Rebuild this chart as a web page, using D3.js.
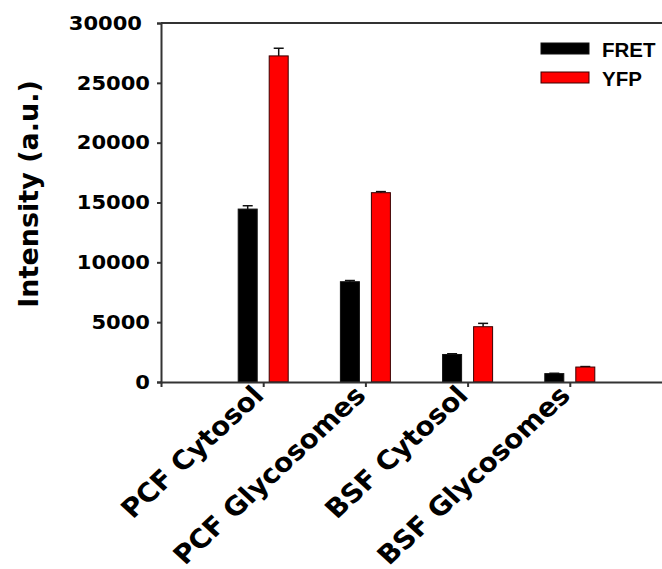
<!DOCTYPE html>
<html>
<head>
<meta charset="utf-8">
<script src="https://cdn.jsdelivr.net/npm/d3@7/dist/d3.min.js"></script>
<style>
  html, body { margin: 0; padding: 0; background: #fff; }
  svg { display: block; }
</style>
</head>
<body>
<svg id="chart" width="662" height="569"></svg>
<script>
// Fluorescence intensity per compartment, FRET vs YFP channel
const categories = ["PCF Cytosol", "PCF Glycosomes", "BSF Cytosol", "BSF Glycosomes"];
const seriesNames = ["FRET", "YFP"];
const fretValues = [14450, 8380, 2300, 700];
const fretErrors = [280, 100, 60, 30];
const yfpValues = [27250, 15820, 4620, 1250];
const yfpErrors = [640, 90, 280, 40];
const yTicks = [0, 5000, 10000, 15000, 20000, 25000, 30000];
const colors = ["#000000", "#ff0000"];

const svg = d3.select("#chart");
const plotLeft = 161, plotRight = 672, plotTop = 23, plotBottom = 382;
const stretch = 1.08; // slightly wide lettering

// five slots along the axis, categories sit on slots 1..4
const x = d3.scaleLinear().domain([0, 5]).range([plotLeft, plotRight]);
const y = d3.scaleLinear().domain([0, 30000]).range([plotBottom, plotTop]);

const barW = 19, offset = 15.5;
const series = [
  { name: seriesNames[0], values: fretValues, errors: fretErrors, color: colors[0], stroke: "#111", dx: -offset },
  { name: seriesNames[1], values: yfpValues, errors: yfpErrors, color: colors[1], stroke: "#3a0000", dx: offset }
];

// bars with upper error whiskers
series.forEach(s => {
  const g = svg.append("g");
  s.values.forEach((v, i) => {
    const cx = x(i + 1) + s.dx;
    const yTop = y(v + s.errors[i]);
    g.append("line")
      .attr("x1", cx).attr("x2", cx)
      .attr("y1", y(v)).attr("y2", yTop)
      .attr("stroke", "#111").attr("stroke-width", 1.5);
    g.append("line")
      .attr("x1", cx - 5).attr("x2", cx + 5)
      .attr("y1", yTop).attr("y2", yTop)
      .attr("stroke", "#111").attr("stroke-width", 1.5);
    g.append("rect")
      .attr("x", cx - barW / 2).attr("width", barW)
      .attr("y", y(v)).attr("height", y(0) - y(v))
      .attr("fill", s.color).attr("stroke", s.stroke).attr("stroke-width", 1);
  });
});

// frame top line
svg.append("line")
  .attr("x1", plotLeft).attr("x2", plotRight).attr("y1", plotTop).attr("y2", plotTop)
  .attr("stroke", "#333").attr("stroke-width", 2);

// y axis
const yAxis = svg.append("g")
  .attr("transform", `translate(${plotLeft},0)`)
  .call(d3.axisLeft(y).tickValues(yTicks).tickSize(4).tickPadding(7).tickFormat(d3.format("d")));
yAxis.select(".domain").attr("stroke", "#333").attr("stroke-width", 2);
yAxis.selectAll(".tick line").attr("stroke", "#333").attr("stroke-width", 2);
yAxis.selectAll(".tick text")
  .attr("x", d => (d === 30000 ? -19 : -11) / stretch)
  .attr("transform", `scale(${stretch},1)`)
  .attr("font-family", "DejaVu Sans, Verdana, sans-serif")
  .attr("font-weight", "bold")
  .attr("font-size", 19.5)
  .attr("fill", "#000");

// x axis
const xAxis = svg.append("g")
  .attr("transform", `translate(0,${plotBottom})`)
  .call(d3.axisBottom(x).tickValues([1, 2, 3, 4]).tickSize(5).tickFormat(""));
xAxis.select(".domain").attr("stroke", "#333").attr("stroke-width", 2);
xAxis.selectAll(".tick line").attr("stroke", "#333").attr("stroke-width", 2);

// rotated category labels
svg.append("g").selectAll("text")
  .data(categories)
  .join("text")
  .attr("transform", (d, i) => `translate(${x(i + 1) + 2},${plotBottom + 15}) scale(${stretch},1) rotate(-45)`)
  .attr("text-anchor", "end")
  .attr("font-family", "DejaVu Sans, Verdana, sans-serif")
  .attr("font-weight", "bold")
  .attr("font-size", 26)
  .attr("fill", "#000")
  .text(d => d);

// y axis title
svg.append("text")
  .attr("transform", `translate(38,194) rotate(-90)`)
  .attr("text-anchor", "middle")
  .attr("font-family", "DejaVu Sans, Verdana, sans-serif")
  .attr("font-weight", "bold")
  .attr("font-size", 27)
  .attr("fill", "#000")
  .text("Intensity (a.u.)");

// legend
const legend = svg.append("g");
series.forEach((s, i) => {
  legend.append("rect")
    .attr("x", 541).attr("y", 43 + i * 29)
    .attr("width", 48).attr("height", 11)
    .attr("fill", s.color).attr("stroke", s.stroke).attr("stroke-width", 1);
  legend.append("text")
    .attr("x", 602).attr("y", 57 + i * 29)
    .attr("font-family", "Liberation Sans, Arial, sans-serif")
    .attr("font-weight", "bold")
    .attr("font-size", 20.5)
    .attr("fill", "#000")
    .text(s.name);
});
</script>
</body>
</html>
